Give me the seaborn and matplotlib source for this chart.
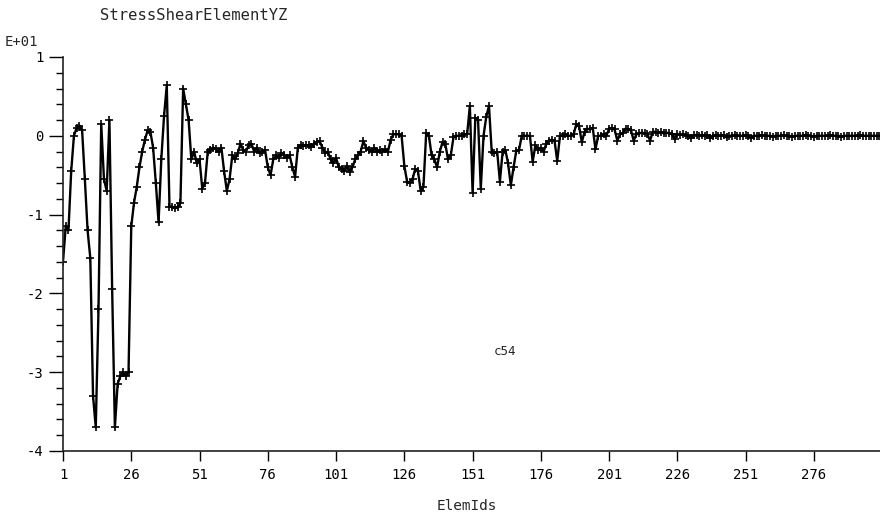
import matplotlib
matplotlib.use("Agg")
import matplotlib.pyplot as plt
from matplotlib.ticker import FixedLocator, MultipleLocator
import numpy as np
import pandas as pd
import seaborn as sns

# Shear stress YZ per element, in units of E+01
stress_001_050 = [
    -1.6, -1.15, -1.2, -0.45, 0.0, 0.1, 0.13, 0.07, -0.55, -1.2,
    -1.55, -3.3, -3.7, -2.2, 0.15, -0.55, -0.7, 0.2, -1.95, -3.7,
    -3.15, -3.05, -3.0, -3.05, -3.0, -1.15, -0.85, -0.65, -0.4, -0.2,
    -0.05, 0.07, 0.05, -0.15, -0.6, -1.1, -0.3, 0.25, 0.64, -0.9,
    -0.9, -0.92, -0.9, -0.85, 0.6, 0.4, 0.2, -0.3, -0.2, -0.35,
]
stress_051_100 = [
    -0.3, -0.67, -0.6, -0.2, -0.18, -0.15, -0.17, -0.2, -0.15, -0.45,
    -0.7, -0.55, -0.25, -0.3, -0.22, -0.1, -0.18, -0.2, -0.12, -0.1,
    -0.2, -0.15, -0.22, -0.2, -0.18, -0.4, -0.5, -0.3, -0.25, -0.28,
    -0.22, -0.25, -0.28, -0.25, -0.4, -0.52, -0.15, -0.12, -0.13, -0.12,
    -0.12, -0.14, -0.1, -0.08, -0.07, -0.15, -0.22, -0.2, -0.3, -0.35,
]
stress_101_150 = [
    -0.28, -0.4, -0.42, -0.45, -0.38, -0.46, -0.4, -0.3, -0.25, -0.2,
    -0.07, -0.15, -0.18, -0.2, -0.15, -0.2, -0.18, -0.2, -0.17, -0.2,
    -0.05, 0.02, 0.02, 0.02, 0.0, -0.38, -0.58, -0.6, -0.55, -0.42,
    -0.45, -0.7, -0.65, 0.03, 0.0, -0.25, -0.3, -0.4, -0.2, -0.08,
    -0.1, -0.3, -0.25, -0.02, 0.0, 0.0, 0.0, 0.02, 0.02, 0.38,
]
stress_151_200 = [
    -0.72, 0.23, 0.2, -0.67, 0.0, 0.24, 0.38, -0.2, -0.22, -0.2,
    -0.58, -0.2, -0.18, -0.35, -0.63, -0.4, -0.19, -0.18, 0.0, 0.0,
    0.0, 0.0, -0.33, -0.12, -0.18, -0.15, -0.2, -0.1, -0.06, -0.05,
    -0.06, -0.32, 0.0, 0.0, 0.02, 0.0, 0.0, 0.02, 0.15, 0.12,
    -0.08, 0.05, 0.09, 0.08, 0.1, -0.17, 0.0, 0.0, 0.02, 0.0,
]
stress_201_250 = [
    0.09, 0.1, 0.08, -0.06, 0.02, 0.03, 0.09, 0.08, 0.07, -0.06,
    0.02, 0.03, 0.04, 0.03, 0.02, -0.06, 0.05, 0.05, 0.04, 0.05,
    0.03, 0.04, 0.03, 0.02, -0.04, 0.02, 0.01, 0.02, 0.01, 0.0,
    -0.03, 0.01, 0.01, 0.0, 0.01, 0.0, 0.01, -0.03, 0.0, 0.01,
    0.0, 0.0, 0.01, -0.02, 0.0, 0.0, 0.01, 0.0, 0.0, 0.0,
]
stress_251_300 = [
    0.01, 0.0, -0.03, 0.0, 0.0, 0.0, 0.01, 0.0, 0.0, 0.0,
    -0.01, 0.0, 0.0, 0.0, 0.01, 0.0, 0.0, -0.01, 0.0, 0.0,
    0.0, 0.0, 0.01, 0.0, 0.0, -0.01, 0.0, 0.0, 0.0, 0.0,
    0.0, 0.01, 0.0, 0.0, 0.0, -0.01, 0.0, 0.0, 0.0, 0.0,
    0.0, 0.0, 0.01, 0.0, 0.0, 0.0, 0.0, 0.0, 0.0, 0.0,
]

x_ticks = [1, 26, 51, 76, 101, 126, 151, 176, 201, 226, 251, 276]
y_ticks = [-4, -3, -2, -1, 0, 1]

stress = (stress_001_050 + stress_051_100 + stress_101_150
          + stress_151_200 + stress_201_250 + stress_251_300)
elem_ids = list(range(1, len(stress) + 1))
df = pd.DataFrame({"ElemIds": elem_ids, "Stress": stress})

sns.set_style("ticks")
plt.rcParams["font.family"] = ["DejaVu Sans Mono"]
plt.rcParams["axes.unicode_minus"] = False

W, H = 880, 517
fig = plt.figure(figsize=(W / 100, H / 100), dpi=100)
ax = fig.add_axes([63 / W, (H - 451) / H, (W - 63) / W, (451 - 57) / H])

sns.lineplot(data=df, x="ElemIds", y="Stress", ax=ax, color="black",
             linewidth=1.7, marker="+", markersize=6, markeredgewidth=1.2,
             markeredgecolor="black", estimator=None, sort=False)

ax.set_xlim(1, 300.2)
ax.set_ylim(-4, 1)
ax.xaxis.set_major_locator(FixedLocator(x_ticks))
ax.yaxis.set_major_locator(FixedLocator(y_ticks))
ax.yaxis.set_minor_locator(MultipleLocator(0.2))
ax.set_xticklabels([str(t) for t in x_ticks])
ax.set_yticklabels([str(t) for t in y_ticks])

for side in ("top", "right"):
    ax.spines[side].set_visible(False)
for side in ("left", "bottom"):
    ax.spines[side].set_color("#222222")
    ax.spines[side].set_linewidth(1.2)

ax.tick_params(axis="x", which="major", direction="out", length=7, width=1,
               pad=5, labelsize=10, colors="black")
ax.tick_params(axis="y", which="major", direction="out", length=10, width=1,
               pad=4, labelsize=10, colors="black")
ax.tick_params(axis="y", which="minor", direction="out", length=5, width=1,
               colors="black")
ax.set_xlabel("")
ax.set_ylabel("")

fig.text(100 / W, 1 - 15 / H, "StressShearElementYZ", ha="left",
         va="center", fontsize=11.2)
fig.text(5 / W, 1 - 42 / H, "E+01", ha="left", va="center", fontsize=10)
fig.text(467 / W, 1 - 506 / H, "ElemIds", ha="center", va="center",
         fontsize=10.4)
ax.text(163, -2.74, "c54", ha="center", va="center", fontsize=9)

fig.savefig("out.png", dpi=100, facecolor="white")
